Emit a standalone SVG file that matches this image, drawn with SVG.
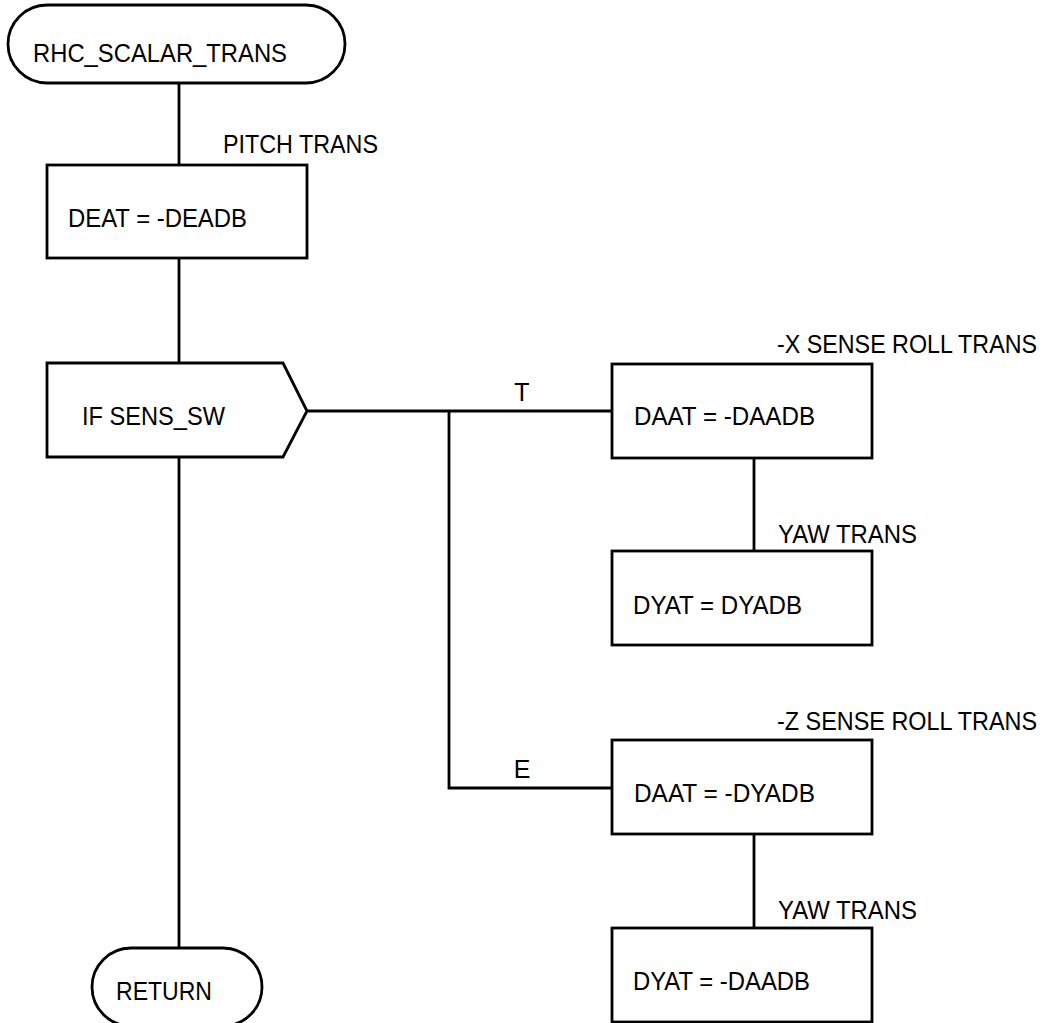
<svg xmlns="http://www.w3.org/2000/svg" width="1049" height="1023" viewBox="0 0 1049 1023">
<style>
.s{fill:#fff;stroke:#000;stroke-width:2.8}
.c{fill:none;stroke:#000;stroke-width:2.8}
text{font-family:"Liberation Sans",Arial,sans-serif;font-size:25px;fill:#000}
</style>
<rect width="1049" height="1023" fill="#fff"/>
<g id="connectors">
<line class="c" x1="179" y1="83" x2="179" y2="165"/>
<line class="c" x1="179" y1="258" x2="179" y2="363"/>
<line class="c" x1="179" y1="457" x2="179" y2="948"/>
<polyline class="c" points="307,411 612,411"/>
<polyline class="c" points="449,411 449,788 612,788"/>
<line class="c" x1="754" y1="458" x2="754" y2="551"/>
<line class="c" x1="754" y1="834" x2="754" y2="928"/>
<text x="522" y="401" text-anchor="middle">T</text>
<text x="522" y="778" text-anchor="middle">E</text>
</g>
<g id="start">
<rect class="s" x="8" y="5" width="337" height="78" rx="39" ry="39"/>
<text x="33" y="62" textLength="254" lengthAdjust="spacingAndGlyphs">RHC_SCALAR_TRANS</text>
</g>
<g id="pitch">
<text x="223" y="153" textLength="155" lengthAdjust="spacingAndGlyphs">PITCH TRANS</text>
<rect class="s" x="47" y="165" width="260" height="93"/>
<text x="68" y="227" textLength="179" lengthAdjust="spacingAndGlyphs">DEAT = -DEADB</text>
</g>
<g id="decision">
<polygon class="s" points="47,363 283,363 307,411 283,457 47,457"/>
<text x="82" y="425" textLength="143" lengthAdjust="spacingAndGlyphs">IF SENS_SW</text>
</g>
<g id="xroll">
<text x="777" y="353" textLength="260" lengthAdjust="spacingAndGlyphs">-X SENSE ROLL TRANS</text>
<rect class="s" x="612" y="364" width="260" height="94"/>
<text x="634" y="425" textLength="181" lengthAdjust="spacingAndGlyphs">DAAT = -DAADB</text>
</g>
<g id="yaw1">
<text x="778" y="543" textLength="139" lengthAdjust="spacingAndGlyphs">YAW TRANS</text>
<rect class="s" x="612" y="551" width="260" height="94"/>
<text x="633" y="614" textLength="169" lengthAdjust="spacingAndGlyphs">DYAT = DYADB</text>
</g>
<g id="zroll">
<text x="777" y="730" textLength="260" lengthAdjust="spacingAndGlyphs">-Z SENSE ROLL TRANS</text>
<rect class="s" x="612" y="740" width="260" height="94"/>
<text x="634" y="802" textLength="181" lengthAdjust="spacingAndGlyphs">DAAT = -DYADB</text>
</g>
<g id="yaw2">
<text x="778" y="919" textLength="139" lengthAdjust="spacingAndGlyphs">YAW TRANS</text>
<rect class="s" x="612" y="928" width="260" height="94"/>
<text x="633" y="990" textLength="177" lengthAdjust="spacingAndGlyphs">DYAT = -DAADB</text>
</g>
<g id="return">
<rect class="s" x="92" y="948" width="170" height="78" rx="39" ry="39"/>
<text x="116" y="1000" textLength="96" lengthAdjust="spacingAndGlyphs">RETURN</text>
</g>
</svg>
